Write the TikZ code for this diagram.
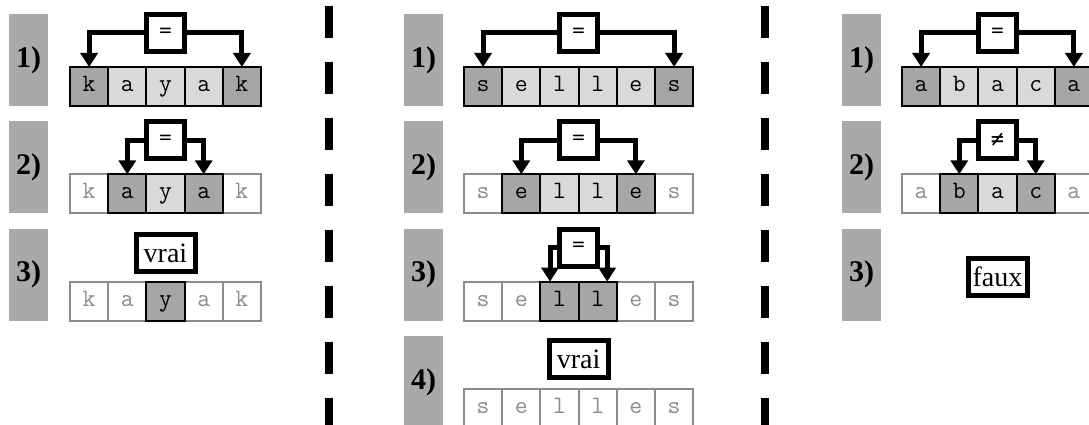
\documentclass[tikz,border=0pt]{standalone}
\usepackage{fontspec}
\setmainfont{Liberation Serif}
\newfontfamily\neqfont{DejaVu Sans Mono}
\usetikzlibrary{arrows.meta}
\definecolor{labgray}{HTML}{A9A9A9}
\definecolor{dkcell}{HTML}{A6A6A6}
\definecolor{ltcell}{HTML}{D9D9D9}
\definecolor{offgray}{HTML}{8C8C8C}
\tikzset{
 lab/.style={fill=labgray, minimum width=39pt, minimum height=92pt, inner sep=0pt, outer sep=0pt, font=\fontsize{30}{30}\selectfont\bfseries},
 cell/.style={minimum width=38.2pt, minimum height=39pt, inner sep=0pt, outer sep=0pt, line width=2pt, text height=14pt, text depth=4pt, font=\ttfamily\fontsize{25}{25}\selectfont},
 dk/.style={fill=dkcell, draw=black},
 lt/.style={fill=ltcell, draw=black},
 off/.style={fill=white, draw=offgray, text=offgray},
 bd-dk/.style={draw=black}, bd-lt/.style={draw=black}, bd-off/.style={},
 cmpbox/.style={draw=black, fill=white, line width=5pt, minimum width=38pt, minimum height=37pt, inner sep=0pt, outer sep=0pt, font=\ttfamily\fontsize{25}{25}\selectfont},
 resbox/.style={draw=black, fill=white, line width=5pt, minimum width=59pt, minimum height=37pt, inner sep=0pt, outer sep=0pt, font=\fontsize{28}{28}\selectfont},
 arr/.style={line width=5pt, -{Triangle[width=17pt,length=14pt]}},
 sepline/.style={line width=8pt, dash pattern=on 32pt off 24pt},
}
\newcommand\cellrow[4]{%
 \foreach \s/\l [count=\i] in {#4} {\node[cell,\s] (#1-\i) at ({#2+(\i-0.5)*38.2},{#3+72.5}) {\l};}
 \foreach \s/\l [count=\i] in {#4} {\path[line width=2pt,bd-\s] (#1-\i.south west) rectangle (#1-\i.north east);}
}
\begin{document}
\begin{tikzpicture}[x=1pt,y=-1pt]
\useasboundingbox (0,0) rectangle (1089,425);
\clip (0,0) rectangle (1089,425);
% separators
\coordinate (s1t) at (328.5,6); \coordinate (s1b) at (328.5,440);
\coordinate (s2t) at (764.5,6); \coordinate (s2b) at (764.5,440);
\draw[sepline] (s1t) -- (s1b);
\draw[sepline] (s2t) -- (s2b);
% ---------- left panel ----------
\node[lab] (A1) at (28.5,60) {1)};
\cellrow{a1}{70}{14}{dk/k,lt/a,lt/y,lt/a,dk/k}
\node[cmpbox] (ae1) at (165.5,33) {=};
\draw[arr] (ae1.west) -| (a1-1.north);
\draw[arr] (ae1.east) -| (a1-5.north);
\node[lab] (A2) at (28.5,167.3) {2)};
\cellrow{a2}{70}{121.3}{off/k,dk/a,lt/y,dk/a,off/k}
\node[cmpbox] (ae2) at (165.5,140.3) {=};
\draw[arr] (ae2.west) -| (a2-2.north);
\draw[arr] (ae2.east) -| (a2-4.north);
\node[lab] (A3) at (28.5,274.6) {3)};
\cellrow{a3}{70}{228.6}{off/k,off/a,dk/y,off/a,off/k}
\node[resbox] (ar3) at (165.5,253) {vrai};
% ---------- middle panel ----------
\node[lab] (B1) at (423.5,60) {1)};
\cellrow{b1}{464}{14}{dk/s,lt/e,lt/l,lt/l,lt/e,dk/s}
\node[cmpbox] (be1) at (578.6,33) {=};
\draw[arr] (be1.west) -| (b1-1.north);
\draw[arr] (be1.east) -| (b1-6.north);
\node[lab] (B2) at (423.5,167.3) {2)};
\cellrow{b2}{464}{121.3}{off/s,dk/e,lt/l,lt/l,dk/e,off/s}
\node[cmpbox] (be2) at (578.6,140.3) {=};
\draw[arr] (be2.west) -| (b2-2.north);
\draw[arr] (be2.east) -| (b2-5.north);
\node[lab] (B3) at (423.5,274.6) {3)};
\cellrow{b3}{464}{228.6}{off/s,off/e,dk/l,dk/l,off/e,off/s}
\node[cmpbox] (be3) at (578.6,247.6) {=};
\coordinate (b3l) at (550,281.6);
\coordinate (b3r) at (607.2,281.6);
\draw[arr] (be3.west) -| (b3l);
\draw[arr] (be3.east) -| (b3r);
\node[lab] (B4) at (423.5,381.9) {4)};
\cellrow{b4}{464}{335.9}{off/s,off/e,off/l,off/l,off/e,off/s}
\node[resbox] (br4) at (578.6,359.3) {vrai};
% ---------- right panel ----------
\node[lab] (C1) at (861.5,60) {1)};
\cellrow{c1}{902}{14}{dk/a,lt/b,lt/a,lt/c,dk/a}
\node[cmpbox] (ce1) at (997.5,33) {=};
\draw[arr] (ce1.west) -| (c1-1.north);
\draw[arr] (ce1.east) -| (c1-5.north);
\node[lab] (C2) at (861.5,167.3) {2)};
\cellrow{c2}{902}{121.3}{off/a,dk/b,lt/a,dk/c,off/a}
\node[cmpbox, font=\neqfont\fontsize{22}{22}\selectfont] (ce2) at (997.5,140.3) {≠};
\draw[arr] (ce2.west) -| (c2-2.north);
\draw[arr] (ce2.east) -| (c2-4.north);
\node[lab] (C3) at (861.5,274.6) {3)};
\node[resbox] (cr3) at (997.5,276.7) {faux};
\end{tikzpicture}
\end{document}
